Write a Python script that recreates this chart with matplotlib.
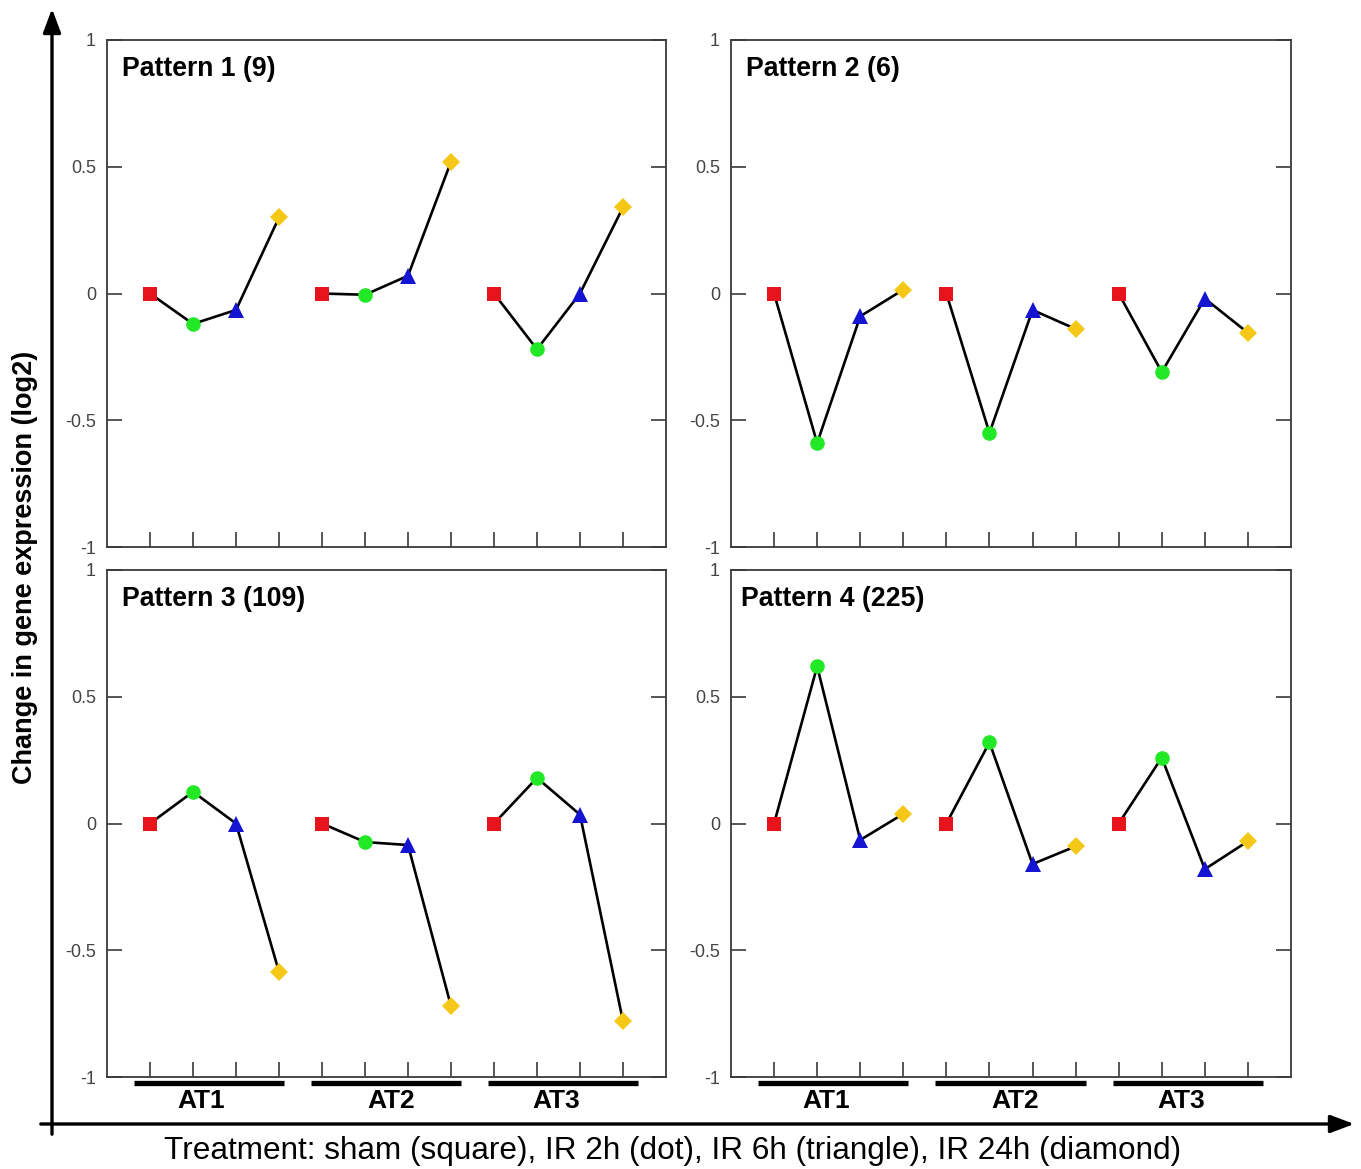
import matplotlib
matplotlib.use("Agg")
import matplotlib.pyplot as plt
from matplotlib.patches import FancyArrowPatch
from matplotlib.transforms import blended_transform_factory

plt.rcParams['font.family'] = ['Liberation Sans', 'DejaVu Sans']

titles = ["Pattern 1 (9)", "Pattern 2 (6)", "Pattern 3 (109)", "Pattern 4 (225)"]
groups = ["AT1", "AT2", "AT3"]
treatments = ["sham", "IR 2h", "IR 6h", "IR 24h"]

# values per pattern: [AT1 x4, AT2 x4, AT3 x4]
pattern1 = [[0.0, -0.12, -0.065, 0.30], [0.0, -0.005, 0.07, 0.52], [0.0, -0.22, 0.0, 0.34]]
pattern2 = [[0.0, -0.59, -0.09, 0.015], [0.0, -0.55, -0.065, -0.14], [0.0, -0.31, -0.02, -0.155]]
pattern3 = [[0.0, 0.125, 0.0, -0.585], [0.0, -0.073, -0.085, -0.72], [0.0, 0.18, 0.035, -0.78]]
pattern4 = [[0.0, 0.62, -0.065, 0.038], [0.0, 0.32, -0.16, -0.09], [0.0, 0.26, -0.18, -0.07]]
patterns = [pattern1, pattern2, pattern3, pattern4]

yticks = [1, 0.5, 0, -0.5, -1]
yticklabels = ["1", "0.5", "0", "-0.5", "-1"]

markers = ['s', 'o', '^', 'D']
mcolors = ['#e8141c', '#22e826', '#1414d2', '#f5c818']
msizes = [10, 10.5, 11, 9]

W, H = 1361, 1169
fig = plt.figure(figsize=(W / 100, H / 100), dpi=100)

boxes = [
    (107, 40, 666, 547),
    (731, 40, 1291, 547),
    (107, 570, 666, 1077),
    (731, 570, 1291, 1077),
]
title_x = [0.027, 0.026, 0.027, 0.018]
bar_ranges = [(-0.37, 3.12), (3.74, 7.23), (7.86, 11.35)]
label_pos = [1.2, 5.6, 9.45]
frame_col = '#3a3a3a'

for i, (x0, y0, x1, y1) in enumerate(boxes):
    ax = fig.add_axes([x0 / W, 1 - y1 / H, (x1 - x0) / W, (y1 - y0) / H])
    data = patterns[i]
    for g, vals in enumerate(data):
        xs = [4 * g + k for k in range(4)]
        ax.plot(xs, vals, color='black', lw=1.9, zorder=2)
        for k in range(4):
            ax.plot(xs[k], vals[k], marker=markers[k], color=mcolors[k],
                    markersize=msizes[k], markeredgewidth=0, linestyle='none', zorder=3)
    ax.set_xlim(-1, 12)
    ax.set_ylim(-1, 1)
    ax.set_xticks(range(12))
    ax.set_xticklabels([])
    ax.set_yticks(yticks)
    ax.set_yticklabels(yticklabels)
    ax.tick_params(axis='both', direction='in', length=11, width=1.2, color=frame_col,
                   labelsize=13, labelcolor='#444444', pad=8)
    ax.tick_params(axis='y', right=True)
    ax.tick_params(axis='x', top=False)
    for sp in ax.spines.values():
        sp.set_color(frame_col)
        sp.set_linewidth(1.3)
    ax.text(title_x[i], 0.929, titles[i], transform=ax.transAxes, fontsize=19.2,
            fontweight='bold', ha='left', va='baseline')
    if i >= 2:
        tr = blended_transform_factory(ax.transData, ax.transAxes)
        for g in range(3):
            a, b = bar_ranges[g]
            ax.plot([a, b], [-0.011, -0.011], color='black', lw=3.8, transform=tr,
                    clip_on=False, solid_capstyle='butt')
            ax.text(label_pos[g], -0.048, groups[g], transform=tr, fontsize=19,
                    fontweight='bold', ha='center', va='center')

# big axis arrows (figure pixel coords, origin bottom-left)
va = FancyArrowPatch((52, H - 1137), (52, H - 6), transform=None,
                     arrowstyle='-|>,head_length=0.8,head_width=0.3', mutation_scale=18,
                     color='black', lw=2.4)
ha_ = FancyArrowPatch((38, H - 1124), (1357, H - 1124), transform=None,
                      arrowstyle='-|>,head_length=0.8,head_width=0.3', mutation_scale=18,
                      color='black', lw=2.4)
fig.patches.extend([va, ha_])

fig.text(25 / W, 1 - 567 / H, "Change in gene expression (log2)", rotation=90,
         fontsize=19.5, fontweight='bold', ha='center', va='center')
fig.text(673 / W, 1 - 1151 / H,
         "Treatment: sham (square), IR 2h (dot), IR 6h (triangle), IR 24h (diamond)",
         fontsize=22.7, ha='center', va='center')

fig.savefig("out.png", dpi=100)
